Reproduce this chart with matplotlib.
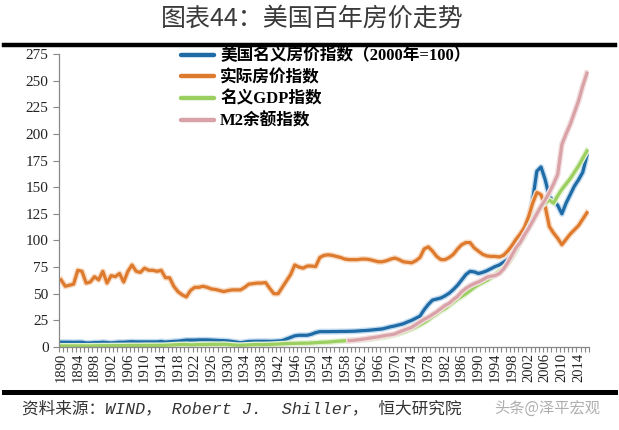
import numpy as np
import matplotlib
matplotlib.use('Agg')
import matplotlib.pyplot as plt
import matplotlib.patheffects as pe

years = list(range(1890, 2017))

nominal_hpi = [
    4.5, 4.5, 4.5, 4.4, 4.5, 4.5, 3.8, 3.8, 4.2, 4.2,
    4.5, 4.2, 3.8, 4.2, 4.5, 4.5, 4.8, 5.0, 4.8, 4.8,
    4.8, 4.8, 4.8, 4.8, 5.2, 4.6, 5.0, 5.3, 5.5, 6.0,
    6.5, 6.5, 6.5, 6.7, 6.7, 6.7, 6.5, 6.3, 6.1, 6.0,
    5.7, 5.2, 4.6, 4.0, 4.6, 5.2, 5.3, 5.4, 5.4, 5.4,
    5.3, 5.4, 5.6, 6.0, 7.5, 9.0, 10.5, 11.0, 11.0, 11.0,
    12.0, 13.5, 14.4, 14.4, 14.4, 14.5, 14.5, 14.6, 14.6, 14.7,
    14.8, 15.0, 15.3, 15.5, 15.8, 16.2, 16.6, 17.0, 18.0, 19.0,
    19.8, 20.8, 21.8, 23.5, 25.0, 27.0, 29.0, 35.0, 40.0, 44.0,
    45.0, 46.0, 48.0, 50.5, 54.0, 58.0, 63.0, 68.0, 71.0, 70.5,
    69.0, 70.0, 71.5, 73.5, 75.5, 77.0, 79.5, 82.0, 86.0, 91.0,
    100, 106, 117, 138, 165, 169, 157, 141, 137, 133,
    125, 135, 143, 151, 157, 164, 180,
]

real_hpi = [
    63, 57, 58, 59, 72, 71, 60, 61, 66, 63,
    71, 60, 67, 66, 69, 61, 71, 77, 71, 70,
    74, 72, 72, 71, 72, 65, 65, 57, 52, 49,
    47, 53, 56, 56, 57, 56, 54.5, 54, 53, 52,
    53, 53.6, 53.6, 53.6, 56, 59, 59.5, 60, 60, 60.5,
    55, 50, 50, 56, 62, 68, 77, 75, 74, 76,
    76, 75.5, 84, 86, 86.5, 86, 85, 84, 82.5, 82,
    82, 82, 82.5, 82.5, 82, 81, 80, 80, 81, 82.5,
    83.5, 82, 80, 79.5, 79, 81, 84, 92, 94, 90,
    85, 82, 82, 84, 87, 92, 96, 98, 98, 93,
    90, 87, 85.5, 85, 85, 84.5, 86, 90, 95, 101,
    106, 112, 122, 135, 145, 143, 132, 113, 107, 102,
    96, 101, 106, 110, 114, 120, 126,
]

nominal_gdp = [
    1.0, 1.0, 1.0, 1.0, 1.0, 1.0, 1.0, 1.0, 1.1, 1.1,
    1.2, 1.2, 1.2, 1.3, 1.3, 1.3, 1.4, 1.4, 1.4, 1.4,
    1.5, 1.5, 1.5, 1.5, 1.5, 1.6, 1.8, 2.0, 2.2, 2.3,
    2.3, 2.0, 2.1, 2.3, 2.3, 2.4, 2.5, 2.5, 2.5, 2.6,
    2.3, 2.0, 1.7, 1.6, 1.8, 2.0, 2.2, 2.3, 2.2, 2.3,
    2.4, 2.6, 2.8, 3.0, 3.2, 3.3, 3.4, 3.5, 3.6, 3.6,
    3.8, 4.0, 4.3, 4.5, 4.6, 5.0, 5.3, 5.6, 5.8, 6.1,
    6.3, 6.5, 6.8, 7.1, 7.5, 8.1, 8.7, 9.2, 9.9, 10.8,
    11.6, 12.6, 14.0, 15.5, 17.0, 18.8, 20.8, 23.0, 25.5, 28.5,
    31, 34, 36, 39, 42, 45, 47.5, 50, 53, 56,
    58.5, 60.5, 62.5, 65, 68, 71, 74, 78, 84, 91,
    98, 104, 112, 119, 126, 132, 135, 138, 135, 142,
    148, 153, 158, 164, 170, 177, 184,
]

m2_years = list(range(1959, 2017))
m2 = [
    6.0,
    6.2, 6.7, 7.2, 7.8, 8.4, 9.0, 9.5, 10.3, 11.0, 11.5,
    12.3, 14.0, 15.6, 17.0, 18.5, 21.0, 23.5, 26.0, 28.0, 30.5,
    33, 36, 39, 41, 44.5, 47.5, 52, 55, 57.5, 59.5,
    61, 63, 65.5, 66.5, 67, 69, 73, 79, 86, 93,
    98, 105, 111, 118, 125, 132, 138, 145, 153, 162,
    190, 200, 209, 220, 231, 245, 257,
]

labels = ['美国名义房价指数（2000年=100）', '实际房价指数', '名义GDP指数', 'M2余额指数']
colors = ['#1F6BA5', '#DD7A2E', '#9BCF5F', '#D8A2A7']
glows = ['#C4DCF0', '#F8DCC4', '#E2F1D0', '#F3DEE0']
tick_years = list(range(1890, 2015, 4))
y_ticks = list(range(0, 276, 25))

cjk = 'Noto Sans CJK SC'
serif = 'Liberation Serif'

fig = plt.figure(figsize=(6.19, 4.30), dpi=100)
ax = fig.add_axes([59/619, 1-347/430, (589-59)/619, (347-54)/430])

series = [(years, nominal_hpi), (years, real_hpi), (years, nominal_gdp), (m2_years, m2)]
for (xs, ys), c, g, lab in zip(series, colors, glows, labels):
    ax.plot(xs, ys, color=c, lw=2.3, label=lab, solid_joinstyle='round',
            path_effects=[pe.Stroke(linewidth=4.3, foreground=g), pe.Normal()])

ax.set_xlim(1889.5, 2016.5)
ax.set_ylim(0, 275)
ax.set_yticks(y_ticks)
ax.set_xticks(tick_years)
ax.set_xticks(np.arange(1889.5, 2017, 1), minor=True)
ax.set_xticklabels([str(y) for y in tick_years], rotation=90, family=serif, fontsize=10.5, color='#222222')
ax.set_yticklabels([str(v) for v in y_ticks], family=serif, fontsize=11, color='#222222')
ax.tick_params(axis='x', which='major', length=0, pad=4)
ax.tick_params(axis='x', which='minor', length=3.5, color='#888888', width=0.8, direction='out')
ax.tick_params(axis='y', length=4.5, color='#888888', width=0.8, pad=3)
for s in ['top', 'right']:
    ax.spines[s].set_visible(False)
for s in ['left', 'bottom']:
    ax.spines[s].set_color('#888888')
    ax.spines[s].set_linewidth(0.9)

leg_handles = [plt.Line2D([], [], color=c, lw=3.2, solid_capstyle='round') for c in colors]
fig.legend(leg_handles, labels, loc='upper left', bbox_to_anchor=(181/619, 1-48/430),
           frameon=False, borderpad=0, borderaxespad=0, handlelength=2.0, handletextpad=0.35,
           labelspacing=0.33,
           prop={'family': [serif, cjk], 'weight': 'bold', 'size': 12})

fig.text(312/619, 1-19/430, '图表44：美国百年房价走势', ha='center', va='center',
         fontsize=18, color='#3A3A3A', family=[cjk])

fig.add_artist(plt.Line2D([4/619, 615/619], [1-45/430, 1-45/430], color='black', lw=3.2,
                          transform=fig.transFigure))
fig.add_artist(plt.Line2D([4/619, 615/619], [1-391.5/430, 1-391.5/430], color='black', lw=3.6,
                          transform=fig.transFigure))

fig.text(22/619, 1-408/430, '资料来源：WIND， Robert J.  Shiller， 恒大研究院', ha='left', va='center',
         fontsize=12, color='#333333', family=['Liberation Mono', cjk], style='italic')
fig.text(600/619, 1-408/430, '头条@泽平宏观', ha='right', va='center',
         fontsize=11, color='#9A9A9A', family=[cjk], alpha=0.8)

fig.savefig('out.png', dpi=100)
